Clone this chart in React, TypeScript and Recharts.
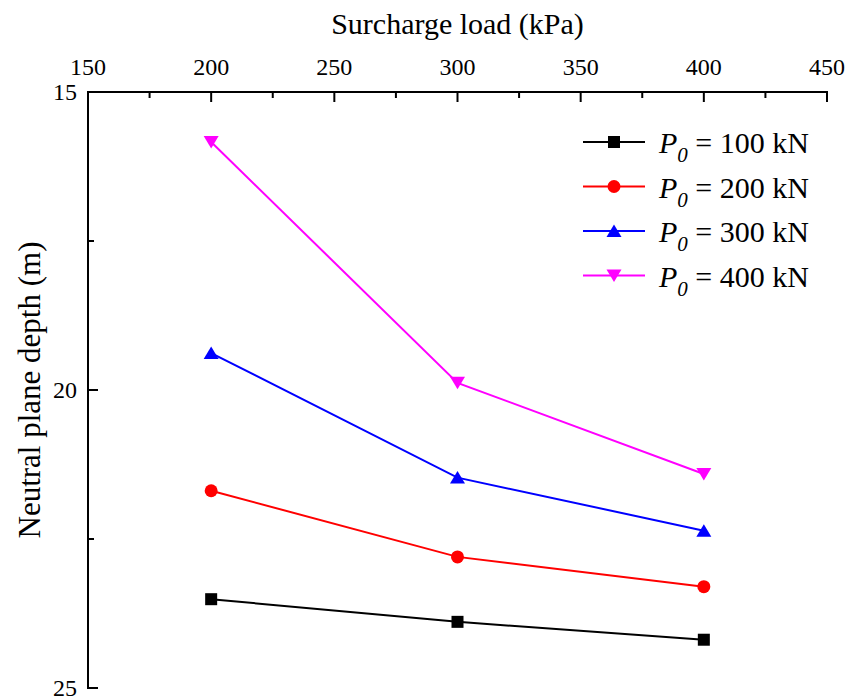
import React from 'react';
import { LineChart, Line, XAxis, YAxis, Legend } from 'recharts';

// Surcharge load (kPa)
const loads = [200, 300, 400];

// Neutral plane depth (m) for each pile-head load
const depthP100 = [23.51, 23.89, 24.19];
const depthP200 = [21.69, 22.8, 23.3];
const depthP300 = [19.38, 21.47, 22.36];
const depthP400 = [15.84, 19.88, 21.41];

const xTicks = [150, 175, 200, 225, 250, 275, 300, 325, 350, 375, 400, 425, 450];
const yTicks = [15, 17.5, 20, 22.5, 25];

const FONT = '"Liberation Serif"';
const txt = { fontFamily: FONT };

type Shape = 'square' | 'circle' | 'up' | 'down';

const series: { key: string; label: string; color: string; shape: Shape }[] = [
  { key: 'p100', label: '100', color: '#000000', shape: 'square' },
  { key: 'p200', label: '200', color: '#ff0000', shape: 'circle' },
  { key: 'p300', label: '300', color: '#0000ff', shape: 'up' },
  { key: 'p400', label: '400', color: '#ff00ff', shape: 'down' },
];

const data = loads.map((load, i) => ({
  load,
  p100: depthP100[i],
  p200: depthP200[i],
  p300: depthP300[i],
  p400: depthP400[i],
}));

const Marker = ({ shape, cx, cy, color }: { shape: Shape; cx: number; cy: number; color: string }) => {
  if (shape === 'square') return <rect x={cx - 6} y={cy - 6} width={12} height={12} fill={color} />;
  if (shape === 'circle') return <circle cx={cx} cy={cy} r={6.5} fill={color} />;
  if (shape === 'up')
    return <polygon points={`${cx},${cy - 6.5} ${cx + 7.5},${cy + 6} ${cx - 7.5},${cy + 6}`} fill={color} />;
  return <polygon points={`${cx - 7.5},${cy - 6} ${cx + 7.5},${cy - 6} ${cx},${cy + 6.5}`} fill={color} />;
};

const MAJOR = 10;
const MINOR = 6;

const TopTick = (props: any) => {
  const { x, y, payload } = props;
  const major = payload.value % 50 === 0;
  return (
    <g>
      <line x1={x} y1={y} x2={x} y2={y + (major ? MAJOR : MINOR)} stroke="#000" strokeWidth={2} />
      {major && (
        <text x={x} y={y - 17} textAnchor="middle" fontSize={24} style={txt} fill="#000">
          {payload.value}
        </text>
      )}
    </g>
  );
};

const BottomTick = (props: any) => {
  const { x, y, payload } = props;
  const major = payload.value % 50 === 0;
  return <line x1={x} y1={y} x2={x} y2={y - (major ? MAJOR : MINOR)} stroke="#000" strokeWidth={2} />;
};

const LeftTick = (props: any) => {
  const { x, y, payload } = props;
  const major = payload.value % 5 === 0;
  return (
    <g>
      <line x1={x} y1={y} x2={x + (major ? MAJOR : MINOR)} y2={y} stroke="#000" strokeWidth={2} />
      {major && (
        <text x={x - 11} y={y + 8} textAnchor="end" fontSize={24} style={txt} fill="#000">
          {payload.value}
        </text>
      )}
    </g>
  );
};

const RightTick = (props: any) => {
  const { x, y, payload } = props;
  const major = payload.value % 5 === 0;
  return <line x1={x} y1={y} x2={x - (major ? MAJOR : MINOR)} y2={y} stroke="#000" strokeWidth={2} />;
};

const XTitle = (props: any) => {
  const { viewBox } = props;
  return (
    <text x={viewBox.x + viewBox.width / 2} y={34} textAnchor="middle" fontSize={30} style={txt} fill="#000">
      Surcharge load (kPa)
    </text>
  );
};

const YTitle = (props: any) => {
  const { viewBox } = props;
  const cy = viewBox.y + viewBox.height / 2;
  return (
    <text
      x={40}
      y={cy}
      transform={`rotate(-90, 40, ${cy})`}
      textAnchor="middle"
      fontSize={31}
      style={txt}
      fill="#000"
    >
      Neutral plane depth (m)
    </text>
  );
};

const LegendBox = () => (
  <svg width={270} height={190} style={{ display: 'block' }}>
    {series.map((s, i) => {
      const cy = 32 + i * 44.5;
      return (
        <g key={s.key}>
          <line x1={13} y1={cy} x2={75} y2={cy} stroke={s.color} strokeWidth={2} />
          <Marker shape={s.shape} cx={44} cy={cy} color={s.color} />
          <text x={89} y={cy + 11} fontSize={30} style={txt} fill="#000">
            <tspan fontStyle="italic">P</tspan>
            <tspan fontStyle="italic" fontSize={21} dy={9}>0</tspan>
            <tspan dy={-9}>{` = ${s.label} kN`}</tspan>
          </text>
        </g>
      );
    })}
  </svg>
);

const axisLine = { stroke: '#000', strokeWidth: 2, strokeLinecap: 'square' as const };

export default function App() {
  return (
    <div style={{ position: 'absolute', left: 0, top: 0, width: 848, height: 698, background: '#fff' }}>
      <LineChart width={848} height={698} data={data} margin={{ top: 0, right: 21, bottom: 10, left: 0 }}>
        <XAxis
          xAxisId="top"
          orientation="top"
          dataKey="load"
          type="number"
          domain={[150, 450]}
          ticks={xTicks}
          interval={0}
          height={92}
          tickSize={0}
          tickMargin={0}
          tickLine={false}
          axisLine={axisLine}
          tick={TopTick}
          allowDataOverflow
          label={XTitle}
        />
        <XAxis
          xAxisId="bottom"
          orientation="bottom"
          dataKey="load"
          type="number"
          domain={[150, 450]}
          ticks={xTicks}
          interval={0}
          height={0}
          tickSize={0}
          tickMargin={0}
          tickLine={false}
          axisLine={axisLine}
          tick={BottomTick}
          allowDataOverflow
        />
        <YAxis
          yAxisId="left"
          orientation="left"
          type="number"
          domain={[15, 25]}
          reversed
          ticks={yTicks}
          interval={0}
          width={88}
          tickSize={0}
          tickMargin={0}
          tickLine={false}
          axisLine={axisLine}
          tick={LeftTick}
          allowDataOverflow
          label={YTitle}
        />
        <YAxis
          yAxisId="right"
          orientation="right"
          type="number"
          domain={[15, 25]}
          reversed
          ticks={yTicks}
          interval={0}
          width={0}
          tickSize={0}
          tickMargin={0}
          tickLine={false}
          axisLine={axisLine}
          tick={RightTick}
          allowDataOverflow
        />
        <Legend
          layout="horizontal"
          verticalAlign="middle"
          align="center"
          content={LegendBox}
          wrapperStyle={{ position: 'absolute', left: 570, top: 110, width: 270, height: 190 }}
        />
        {series.map((s) => (
          <Line
            key={s.key}
            xAxisId="top"
            yAxisId="left"
            type="linear"
            dataKey={s.key}
            name={s.label}
            stroke={s.color}
            strokeWidth={2}
            isAnimationActive={false}
            activeDot={false}
            dot={(p: any) => (
              <Marker key={`${s.key}-${p.index}`} shape={s.shape} cx={p.cx} cy={p.cy} color={s.color} />
            )}
          />
        ))}
      </LineChart>
    </div>
  );
}
